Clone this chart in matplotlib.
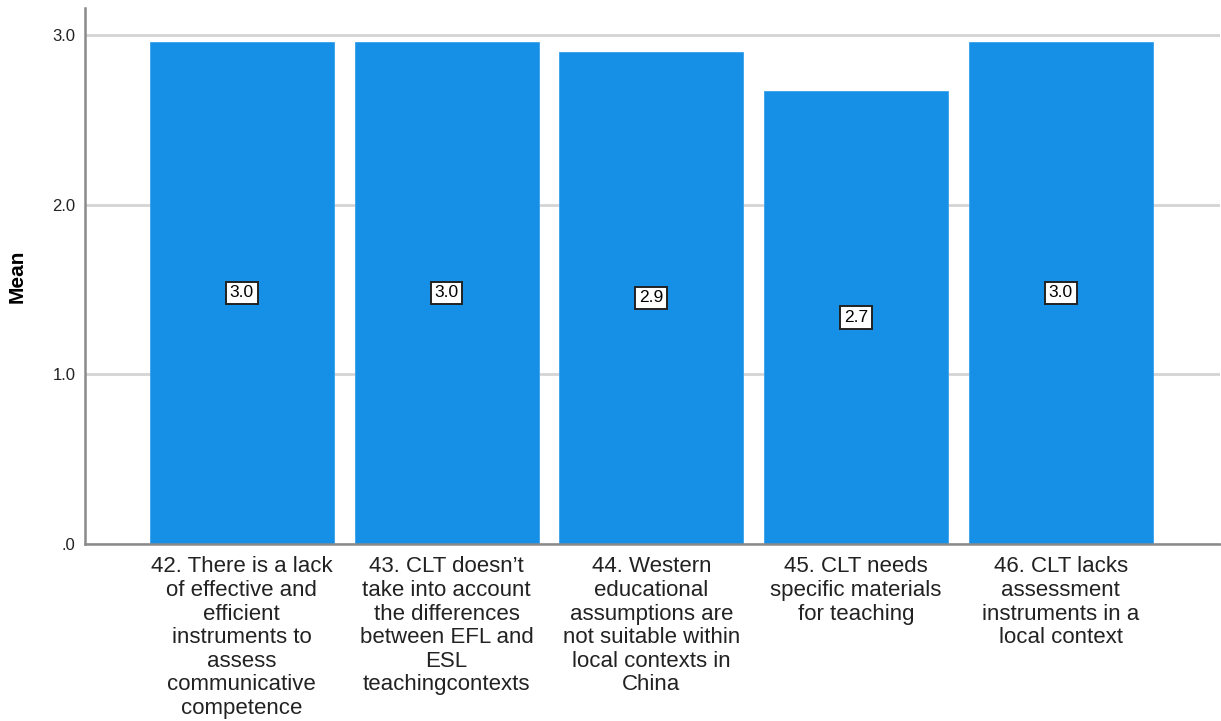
import numpy as np
import matplotlib.pyplot as plt

plt.rcParams['font.family'] = ['Liberation Sans', 'DejaVu Sans']

items = [
    "42. There is a lack\nof effective and\nefficient\ninstruments to\nassess\ncommunicative\ncompetence",
    "43. CLT doesn\u2019t\ntake into account\nthe differences\nbetween EFL and\nESL\nteachingcontexts",
    "44. Western\neducational\nassumptions are\nnot suitable within\nlocal contexts in\nChina",
    "45. CLT needs\nspecific materials\nfor teaching",
    "46. CLT lacks\nassessment\ninstruments in a\nlocal context",
]
means = [2.96, 2.96, 2.90, 2.67, 2.96]
yticks = [0, 1, 2, 3]
ytick_labels = [".0", "1.0", "2.0", "3.0"]

fig = plt.figure(figsize=(12.21, 7.21), dpi=100)
ax = fig.add_axes([0.0696, 0.2455, 0.9294, 0.7435])

x = np.arange(len(items))
ax.bar(x, means, width=0.898, color='#1590e6', edgecolor='#3aa0ec', linewidth=0.6, zorder=2)

# value labels sit at half the bar height
for xi, m in zip(x, means):
    ax.text(xi, m / 2, f"{m:.1f}", ha='center', va='center', fontsize=12.5, zorder=3,
            bbox=dict(boxstyle='square,pad=0.22', facecolor='white', edgecolor='#222222', linewidth=1.4))

ax.set_xlim(-0.766, 4.776)
ax.set_ylim(0, 3.159)
ax.set_yticks(yticks)
ax.set_yticklabels(ytick_labels, fontsize=12, color='#222222')
ax.set_xticks(x)
ax.set_xticklabels(items, fontsize=16, color='#222222', linespacing=1.16)
ax.tick_params(axis='both', length=0, pad=7)
ax.tick_params(axis='x', pad=9)

ax.yaxis.grid(True, color='#d4d4d4', linewidth=2, zorder=0)
ax.set_axisbelow(True)

for side in ['top', 'right']:
    ax.spines[side].set_visible(False)
for side in ['left', 'bottom']:
    ax.spines[side].set_color('#8a8a8a')
    ax.spines[side].set_linewidth(1.8)

ax.set_ylabel("Mean", fontsize=15, fontweight='bold')
ax.yaxis.set_label_coords(-0.051, 0.5)

fig.savefig("out.png", dpi=100)
